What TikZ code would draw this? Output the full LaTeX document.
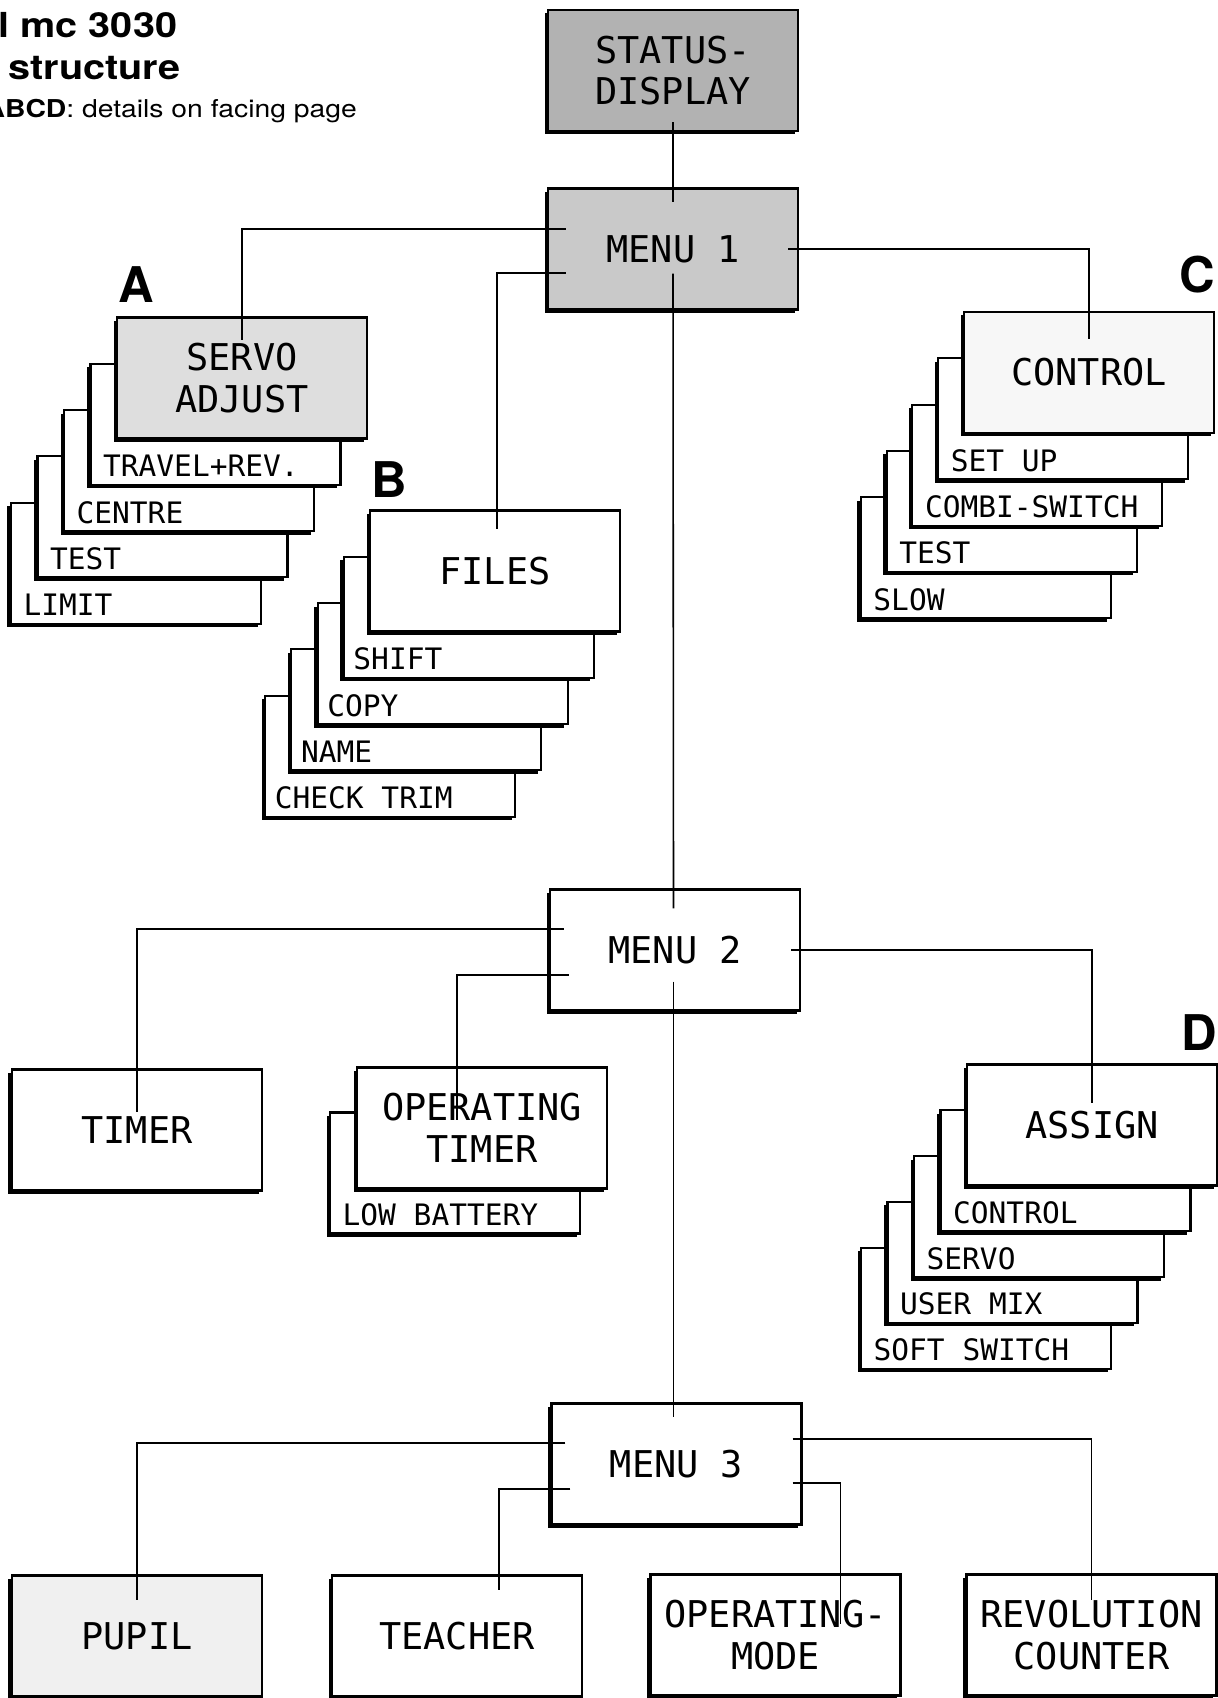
\documentclass[tikz,border=0pt]{standalone}
\usepackage{fontspec}
\setsansfont{TeX Gyre Heros}
\newfontfamily\lcdfont{DejaVu Sans Mono}
\newfontfamily\titlefont[FakeStretch=1.15]{TeX Gyre Heros}
\usetikzlibrary{positioning,shadows}

\begin{document}
\begin{tikzpicture}[
    menubox/.style={draw, line width=0.6pt, fill=white, minimum width=2.5cm, minimum height=1.21cm,
      align=center, font=\lcdfont\fontsize{10.5}{11.8}\selectfont,
      general shadow={fill=black, shadow xshift=-0.035cm, shadow yshift=-0.035cm}},
    subbox/.style={menubox},
    subtext/.style={anchor=base west, inner sep=0pt, font=\lcdfont\fontsize{8.4}{10}\selectfont},
    tag/.style={inner sep=0pt, font=\sffamily\bfseries\fontsize{14}{14}\selectfont},
    head/.style={anchor=base west, inner sep=0pt, font=\titlefont\bfseries\fontsize{9.8}{11}\selectfont},
    note/.style={anchor=base west, inner sep=0pt, font=\titlefont\fontsize{7}{8}\selectfont},
    link/.style={line width=0.45pt}
  ]
    \fill[white] (0,0) rectangle (12.17,-16.98);
    \useasboundingbox (0,0) rectangle (12.17,-16.98);

    % title
    \node[head] (title1) at (-0.02,-0.38) {l mc 3030};
    \node[head] (title2) at (0.08,-0.80) {structure};
    \node[note] (title3) at (-0.16,-1.18) {\textbf{ABCD}: details on facing page};

    % top of the tree
    \node[menubox, fill=black!30] (status) at (6.73,-0.705) {STATUS-\\DISPLAY};
    \node[menubox, fill=black!21] (menu1) at (6.73,-2.49) {MENU 1};

    % A
    \foreach \t/\k in {LIMIT/4,TEST/3,CENTRE/2,TRAVEL+REV./1} {
      \node[subbox, xshift={-\k*0.265cm}, yshift={-\k*0.463cm}] (a\k) at (2.42,-3.78) {};
      \node[subtext] (ta\k) at ([xshift=0.13cm, yshift=0.09cm]a\k.south west) {\t};
    }
    \node[menubox, fill=black!13] (servo) at (2.42,-3.78) {SERVO\\ADJUST};
    \node[tag] (tagA) at (1.36,-2.85) {A};

    % B
    \foreach \t/\k in {CHECK TRIM/4,NAME/3,COPY/2,SHIFT/1} {
      \node[subbox, xshift={-\k*0.262cm}, yshift={-\k*0.463cm}] (b\k) at (4.95,-5.71) {};
      \node[subtext] (tb\k) at ([xshift=0.1cm, yshift=0.09cm]b\k.south west) {\t};
    }
    \node[menubox] (files) at (4.95,-5.71) {FILES};
    \node[tag] (tagB) at (3.89,-4.80) {B};

    % C
    \foreach \t/\k in {SLOW/4,TEST/3,COMBI-SWITCH/2,SET UP/1} {
      \node[subbox, xshift={-\k*0.258cm}, yshift={-\k*0.463cm}] (c\k) at (10.89,-3.725) {};
      \node[subtext] (tc\k) at ([xshift=0.13cm, yshift=0.09cm]c\k.south west) {\t};
    }
    \node[menubox, fill=black!3] (control) at (10.89,-3.725) {CONTROL};
    \node[tag] (tagC) at (11.97,-2.75) {C};

    % second level
    \node[menubox] (menu2) at (6.75,-9.50) {MENU 2};
    \node[menubox] (timer) at (1.37,-11.30) {TIMER};
    \node[subbox, xshift=-0.27cm, yshift=-0.45cm] (lowbat) at (4.82,-11.28) {};
    \node[subtext] (tlowbat) at ([xshift=0.13cm, yshift=0.09cm]lowbat.south west) {LOW BATTERY};
    \node[menubox] (optimer) at (4.82,-11.28) {OPERATING\\TIMER};

    % D
    \foreach \t/\k in {SOFT SWITCH/4,USER MIX/3,SERVO/2,CONTROL/1} {
      \node[subbox, xshift={-\k*0.265cm}, yshift={-\k*0.458cm}] (d\k) at (10.92,-11.25) {};
      \node[subtext] (td\k) at ([xshift=0.13cm, yshift=0.09cm]d\k.south west) {\t};
    }
    \node[menubox] (assign) at (10.92,-11.25) {ASSIGN};
    \node[tag] (tagD) at (11.99,-10.33) {D};

    % third level
    \node[menubox] (menu3) at (6.765,-14.64) {MENU 3};
    \node[menubox, fill=black!6] (pupil) at (1.37,-16.36) {PUPIL};
    \node[menubox] (teacher) at (4.57,-16.36) {TEACHER};
    \node[menubox] (opmode) at (7.755,-16.35) {OPERATING-\\MODE};
    \node[menubox] (revcount) at (10.915,-16.35) {REVOLUTION\\COUNTER};

    % connectors
    \draw[link] ([yshift=0.1cm]status.south) -- ([yshift=-0.15cm]menu1.north);
    \draw[link] ([xshift=0.19cm, yshift=0.2cm]menu1.west) -| ([yshift=-0.24cm]servo.north);
    \draw[link] ([xshift=0.19cm, yshift=-0.24cm]menu1.west) -| ([xshift=0.02cm, yshift=-0.2cm]files.north);
    \draw[link] ([xshift=-0.11cm]menu1.east) -| ([yshift=-0.28cm]control.north);
    \draw[link] ([yshift=0.37cm]menu1.south) -- ([xshift=-0.015cm, yshift=-0.2cm]menu2.north);
    \draw[link] ([xshift=0.15cm, yshift=0.21cm]menu2.west) -| ([yshift=-0.44cm]timer.north);
    \draw[link] ([xshift=0.2cm, yshift=-0.25cm]menu2.west) -| ([xshift=-0.25cm, yshift=-0.54cm]optimer.north);
    \draw[link] ([xshift=-0.1cm]menu2.east) -| ([yshift=-0.4cm]assign.north);
    \draw[link] ([xshift=-0.015cm, yshift=0.3cm]menu2.south) -- ([xshift=-0.03cm, yshift=-0.15cm]menu3.north);
    \draw[link] ([xshift=0.15cm, yshift=0.21cm]menu3.west) -| ([yshift=-0.26cm]pupil.north);
    \draw[link] ([xshift=0.2cm, yshift=-0.25cm]menu3.west) -| ([xshift=0.42cm, yshift=-0.16cm]teacher.north);
    \draw[link] ([xshift=-0.1cm, yshift=0.25cm]menu3.east) -| ([yshift=-0.27cm]revcount.north);
    \draw[link] ([xshift=-0.1cm, yshift=-0.19cm]menu3.east) -| ([xshift=0.65cm, yshift=-0.51cm]opmode.north);
  \end{tikzpicture}
\end{document}
